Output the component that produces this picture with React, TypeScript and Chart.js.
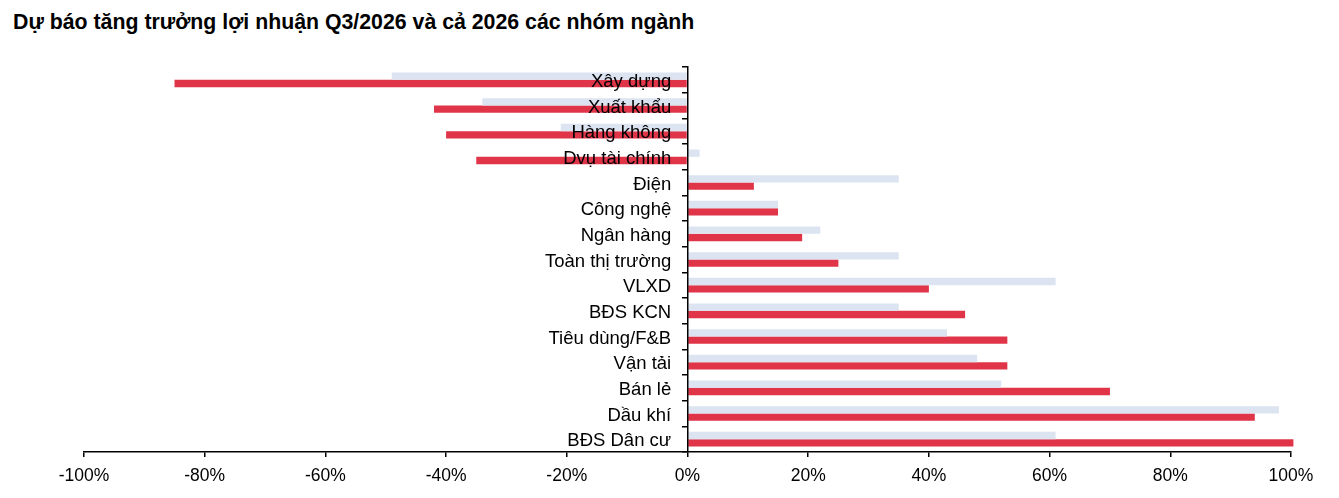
import React, { useEffect, useRef } from 'react';
import { Chart, registerables } from 'chart.js';

Chart.register(...registerables);

const sectors = [
  'Xây dựng',
  'Xuất khẩu',
  'Hàng không',
  'Dvụ tài chính',
  'Điện',
  'Công nghệ',
  'Ngân hàng',
  'Toàn thị trường',
  'VLXD',
  'BĐS KCN',
  'Tiêu dùng/F&B',
  'Vận tải',
  'Bán lẻ',
  'Dầu khí',
  'BĐS Dân cư',
];

// light bars (upper bar of each pair)
const growth2026 = [-49, -34, -21, 2, 35, 15, 22, 35, 61, 35, 43, 48, 52, 98, 61];
// red bars (lower bar of each pair)
const growthQ3 = [-85, -42, -40, -35, 11, 15, 19, 25, 40, 46, 53, 53, 70, 94, 100.4];

const xMin = -100;
const xMax = 100;
const xStep = 20;
// category labels sit a little to the left of the zero line
const labelAnchor = -2.7;

const FONT = 'Liberation Sans, Arial, sans-serif';

const App: React.FC = () => {
  const chartRef = useRef<HTMLCanvasElement>(null);
  const chartInstance = useRef<Chart | null>(null);

  useEffect(() => {
    if (!chartRef.current) return;

    if (chartInstance.current) {
      chartInstance.current.destroy();
    }

    const ctx = chartRef.current.getContext('2d');
    if (ctx) {
      chartInstance.current = new Chart(ctx, {
        type: 'bar',
        data: {
          labels: sectors,
          datasets: [
            {
              label: '2026',
              data: growth2026,
              backgroundColor: '#DCE4F2',
              borderWidth: 0,
              categoryPercentage: 0.57,
              barPercentage: 1,
              yAxisID: 'y',
              clip: false as any,
            },
            {
              label: 'Q3/2026',
              data: growthQ3,
              backgroundColor: '#E03449',
              borderWidth: 0,
              categoryPercentage: 0.57,
              barPercentage: 1,
              yAxisID: 'y',
              clip: false as any,
            },
          ],
        },
        options: {
          indexAxis: 'y',
          animation: false,
          responsive: true,
          maintainAspectRatio: false,
          layout: {
            padding: { left: 84, right: 48, top: 67, bottom: 2 },
          },
          plugins: {
            legend: { display: false },
            tooltip: { enabled: false },
          },
          scales: {
            x: {
              min: xMin,
              max: xMax,
              grid: {
                drawOnChartArea: false,
                drawTicks: true,
                tickLength: 5,
                color: '#000',
                lineWidth: 1.5,
              },
              border: { display: true, color: '#000', width: 1.5 },
              ticks: {
                stepSize: xStep,
                color: '#000',
                padding: 9,
                font: { family: FONT, size: 17.5 },
                callback: (v) => `${v}%`,
              },
            },
            y: {
              position: { x: 0 } as any,
              offset: true,
              grid: {
                offset: true,
                drawOnChartArea: false,
                drawTicks: true,
                tickLength: 5,
                color: '#000',
                lineWidth: 1.5,
                z: 1,
              },
              border: { display: true, color: '#000', width: 1.5, z: 1 },
              ticks: { display: false },
            },
            yLabels: {
              type: 'category',
              axis: 'y',
              position: { x: labelAnchor } as any,
              offset: true,
              grid: { display: false },
              border: { display: false },
              ticks: {
                z: 1,
                color: '#000',
                autoSkip: false,
                labelOffset: 2,
                font: { family: FONT, size: 18.5 },
              },
            },
          },
        },
      });
    }

    return () => {
      if (chartInstance.current) {
        chartInstance.current.destroy();
        chartInstance.current = null;
      }
    };
  }, []);

  return (
    <div style={{ position: 'relative', width: 1339, height: 498, margin: -8, overflow: 'hidden', background: '#fff' }}>
      <div
        style={{
          position: 'absolute',
          left: 0,
          top: 10,
          fontFamily: FONT,
          fontWeight: 'bold',
          fontSize: 21.3,
          color: '#000',
          whiteSpace: 'nowrap',
        }}
      >
        : Dự báo tăng trưởng lợi nhuận Q3/2026 và cả 2026 các nhóm ngành
      </div>
      <div style={{ position: 'absolute', left: 0, top: 0, width: 1339, height: 498 }}>
        <canvas ref={chartRef}></canvas>
      </div>
    </div>
  );
};

export default App;
